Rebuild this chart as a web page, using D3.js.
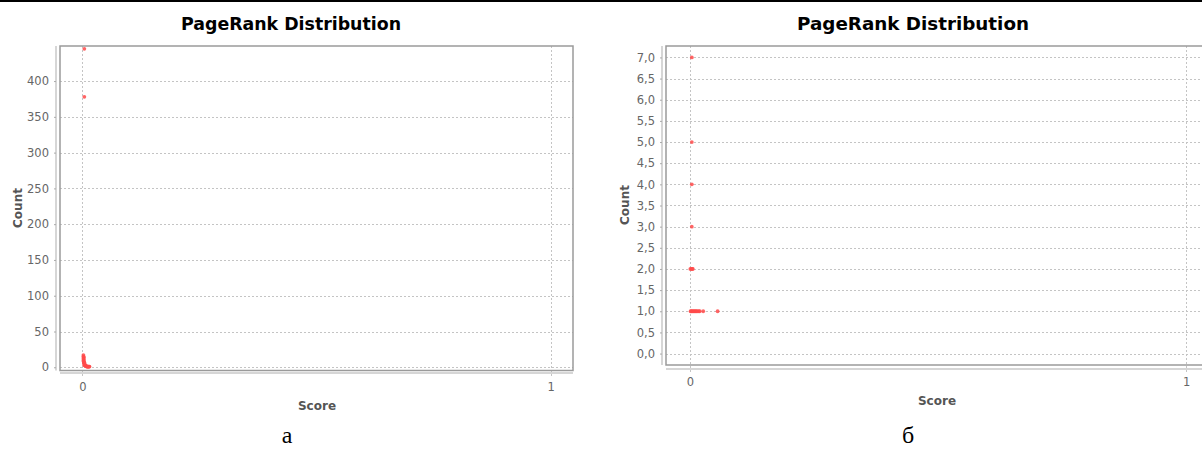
<!DOCTYPE html>
<html>
<head>
<meta charset="utf-8">
<script src="https://cdn.jsdelivr.net/npm/d3@7"></script>
<style>
  html, body { margin: 0; padding: 0; background: #fff; }
  svg { display: block; }
</style>
</head>
<body>
<svg id="fig" width="1202" height="450"></svg>
<script>
// PageRank distributions of two graphs (score vs. number of nodes)

// Panel "а"
const scoresA = [0.004, 0.004, 0.002, 0.002, 0.003, 0.002, 0.003, 0.002, 0.003, 0.004, 0.003, 0.004,
                 0.005, 0.004, 0.005, 0.006, 0.007, 0.008, 0.009, 0.010, 0.011, 0.012, 0.013, 0.014, 0.015];
const countsA = [445, 378, 17, 15, 14, 12, 11, 9, 8, 7, 6, 5,
                 4, 3, 3, 2, 2, 2, 1, 1, 1, 1, 1, 1, 1];
const yTicksA = [0, 50, 100, 150, 200, 250, 300, 350, 400];

// Panel "б"
const scoresB = [0.004, 0.004, 0.004, 0.004, 0.001, 0.003, 0.005, 0.006,
                 0.0015, 0.003, 0.005, 0.007, 0.009, 0.011, 0.013, 0.015, 0.018, 0.020, 0.027, 0.056];
const countsB = [7, 5, 4, 3, 2, 2, 2, 2,
                 1, 1, 1, 1, 1, 1, 1, 1, 1, 1, 1, 1];
const yTicksB = [0, 0.5, 1, 1.5, 2, 2.5, 3, 3.5, 4, 4.5, 5, 5.5, 6, 6.5, 7];

const xTicks = [0, 1];
const titleText = "PageRank Distribution";
const xLabel = "Score";
const yLabel = "Count";
const captions = ["а", "б"];

const svg = d3.select("#fig");

// thin black rule along the top edge
svg.append("rect").attr("x", 0).attr("y", 0).attr("width", 1202).attr("height", 2).attr("fill", "#000");

const panels = [
  {
    scores: scoresA, counts: countsA, yTicks: yTicksA,
    yDomain: [-4.5, 449], yFormat: d3.format("d"),
    plot: { x0: 60, x1: 573, y0: 46, y1: 370.5 },
    yAxisX: 56, xAxisY: 373,
    title: { cx: 291, y: 30, w: 220 },
    countPos: { x: 22, y: 208 },
    scorePos: { x: 317, y: 410 },
    caption: { x: 287, y: 443 },
    xTickY: 391
  },
  {
    scores: scoresB, counts: countsB, yTicks: yTicksB,
    yDomain: [-0.27, 7.27], yFormat: v => d3.format(".1f")(v).replace(".", ","),
    plot: { x0: 666, x1: 1210, y0: 46, y1: 365 },
    yAxisX: 662, xAxisY: 369,
    title: { cx: 913, y: 30, w: 232 },
    countPos: { x: 629, y: 205 },
    scorePos: { x: 937, y: 405 },
    caption: { x: 908, y: 443 },
    xTickY: 386
  }
];

const fontSans = "'DejaVu Sans', 'Noto Sans', sans-serif";

panels.forEach((p, i) => {
  const g = svg.append("g");
  const x = d3.scaleLinear().domain([-0.048, 1.048]).range([p.plot.x0, p.plot.x1]);
  const y = d3.scaleLinear().domain(p.yDomain).range([p.plot.y1, p.plot.y0]);

  // title
  g.append("text")
    .attr("x", p.title.cx).attr("y", p.title.y)
    .attr("text-anchor", "middle")
    .attr("font-family", fontSans).attr("font-weight", "bold").attr("font-size", 17)
    .attr("textLength", p.title.w).attr("lengthAdjust", "spacingAndGlyphs")
    .attr("fill", "#000")
    .text(titleText);

  // plot background
  g.append("rect")
    .attr("x", p.plot.x0).attr("y", p.plot.y0)
    .attr("width", p.plot.x1 - p.plot.x0).attr("height", p.plot.y1 - p.plot.y0)
    .attr("fill", "#fff");

  // dashed grid
  const grid = g.append("g").attr("stroke", "#c4c4c4").attr("stroke-width", 1).attr("stroke-dasharray", "2,2");
  grid.selectAll("line.h").data(p.yTicks).join("line")
    .attr("class", "h")
    .attr("x1", p.plot.x0).attr("x2", p.plot.x1)
    .attr("y1", d => Math.round(y(d)) + 0.5).attr("y2", d => Math.round(y(d)) + 0.5);
  grid.selectAll("line.v").data(xTicks).join("line")
    .attr("class", "v")
    .attr("y1", p.plot.y0).attr("y2", p.xAxisY + 3)
    .attr("x1", d => Math.round(x(d)) + 0.5).attr("x2", d => Math.round(x(d)) + 0.5);

  // points
  const pts = p.scores.map((s, k) => ({ s, c: p.counts[k] }));
  g.append("g").selectAll("circle").data(pts).join("circle")
    .attr("cx", d => x(d.s)).attr("cy", d => y(d.c))
    .attr("r", 1.9)
    .attr("fill", "#ff4a4a").attr("fill-opacity", 0.85);

  // plot frame
  g.append("rect")
    .attr("x", p.plot.x0).attr("y", p.plot.y0)
    .attr("width", p.plot.x1 - p.plot.x0).attr("height", p.plot.y1 - p.plot.y0)
    .attr("fill", "none").attr("stroke", "#9a9a9a").attr("stroke-width", 1.5);

  // y axis
  const yAxis = d3.axisLeft(y).tickValues(p.yTicks).tickFormat(p.yFormat)
    .tickSizeInner(2).tickSizeOuter(0).tickPadding(5);
  const ya = g.append("g").attr("transform", `translate(${p.yAxisX},0)`).call(yAxis);
  ya.select(".domain").attr("stroke", "#c8c8c8").attr("stroke-width", 1.5)
    .attr("d", `M0,${p.plot.y0}V${p.plot.y1}`);
  ya.selectAll(".tick line").attr("stroke", "#aaa");
  ya.selectAll(".tick text")
    .attr("font-family", fontSans).attr("font-size", 11.5).attr("fill", "#666");

  // x axis
  const xAxis = d3.axisBottom(x).tickValues(xTicks).tickFormat(d3.format("d"))
    .tickSizeInner(0).tickSizeOuter(0).tickPadding(0);
  const xa = g.append("g").attr("transform", `translate(0,${p.xAxisY})`).call(xAxis);
  xa.select(".domain").attr("stroke", "#c8c8c8").attr("stroke-width", 1.5)
    .attr("d", `M${p.plot.x0},0H${p.plot.x1}`);
  xa.selectAll(".tick text")
    .attr("dy", null)
    .attr("y", p.xTickY - p.xAxisY)
    .attr("font-family", fontSans).attr("font-size", 11.5).attr("fill", "#666");

  // axis titles
  g.append("text")
    .attr("transform", `translate(${p.countPos.x},${p.countPos.y}) rotate(-90)`)
    .attr("text-anchor", "middle")
    .attr("font-family", fontSans).attr("font-weight", "bold").attr("font-size", 12)
    .attr("fill", "#555")
    .text(yLabel);
  g.append("text")
    .attr("x", p.scorePos.x).attr("y", p.scorePos.y)
    .attr("text-anchor", "middle")
    .attr("font-family", fontSans).attr("font-weight", "bold").attr("font-size", 12)
    .attr("fill", "#555")
    .text(xLabel);

  // panel caption
  g.append("text")
    .attr("x", p.caption.x).attr("y", p.caption.y)
    .attr("text-anchor", "middle")
    .attr("font-family", "'Liberation Serif', 'DejaVu Serif', serif").attr("font-size", 24)
    .attr("fill", "#000")
    .text(captions[i]);
});
</script>
</body>
</html>
